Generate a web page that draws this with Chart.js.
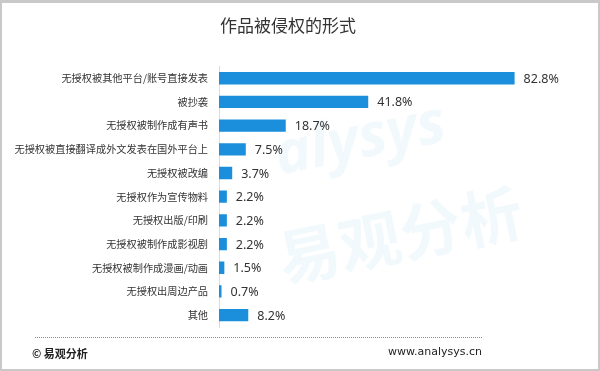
<!DOCTYPE html>
<html>
<head>
<meta charset="utf-8">
<script src="https://cdn.jsdelivr.net/npm/chart.js@4/dist/chart.umd.min.js"></script>
<style>
  html, body { margin: 0; padding: 0; background: #fff; }
  #wrap {
    position: relative; width: 600px; height: 371px; box-sizing: border-box;
    border: 2px solid #c9c9c9; border-top-width: 3px; background: #fff;
    font-family: "Noto Sans CJK SC", "Noto Sans", sans-serif;
  }
  #chart { position: absolute; left: -2px; top: -3px; }
  .foot { position: absolute; top: 342px; font-size: 11px; color: #222; font-weight: bold; }
  #dots {
    position: absolute; left: 33px; top: 334px; width: 448px; height: 1px;
    background-image: repeating-linear-gradient(to right, #8a8a8a 0 1px, transparent 1px 2px);
  }
</style>
</head>
<body>
<div id="wrap">
  <canvas id="chart" width="600" height="371"></canvas>
  <div id="dots"></div>
  <div class="foot" style="left:30px;">© 易观分析</div>
  <div class="foot" style="right:116px; font-weight:normal; font-family: 'DejaVu Sans', sans-serif;">www.analysys.cn</div>
</div>
<script>
const title = '作品被侵权的形式';
const categories = [
  '无授权被其他平台/账号直接发表',
  '被抄袭',
  '无授权被制作成有声书',
  '无授权被直接翻译成外文发表在国外平台上',
  '无授权被改编',
  '无授权作为宣传物料',
  '无授权出版/印刷',
  '无授权被制作成影视剧',
  '无授权被制作成漫画/动画',
  '无授权出周边产品',
  '其他'
];
const values = [82.8, 41.8, 18.7, 7.5, 3.7, 2.2, 2.2, 2.2, 1.5, 0.7, 8.2];

const valueLabels = {
  id: 'valueLabels',
  afterDatasetsDraw(chart) {
    const ctx = chart.ctx;
    const meta = chart.getDatasetMeta(0);
    ctx.save();
    ctx.font = '12.5px "Noto Sans", sans-serif';
    ctx.fillStyle = '#333';
    ctx.textAlign = 'left';
    ctx.textBaseline = 'middle';
    meta.data.forEach((bar, i) => {
      ctx.fillText(values[i].toFixed(1) + '%', bar.x + 9, bar.y + 1);
    });
    ctx.restore();
  }
};

const watermark = {
  id: 'watermark',
  beforeDatasetsDraw(chart) {
    const ctx = chart.ctx;
    ctx.save();
    ctx.translate(400, 235);
    ctx.rotate(-0.2);
    ctx.font = 'bold 62px "Noto Sans CJK SC", sans-serif';
    ctx.fillStyle = 'rgba(40,150,220,0.06)';
    ctx.textAlign = 'center';
    ctx.textBaseline = 'middle';
    ctx.fillText('易观分析', 0, 0);
    ctx.font = 'bold italic 60px "Noto Sans", sans-serif';
    ctx.fillText('alysys', -20, -100);
    ctx.restore();
  }
};

new Chart(document.getElementById('chart'), {
  type: 'bar',
  data: {
    labels: categories,
    datasets: [{
      data: values,
      backgroundColor: '#1b8fdb',
      categoryPercentage: 1,
      barPercentage: 0.52
    }]
  },
  plugins: [watermark, valueLabels],
  options: {
    indexAxis: 'y',
    responsive: false,
    animation: false,
    layout: { padding: { top: 0, right: 24, bottom: 44, left: 0 } },
    plugins: {
      legend: { display: false },
      tooltip: { enabled: false },
      title: {
        display: true,
        text: title,
        color: '#333',
        font: { size: 17, family: '"Noto Sans CJK SC", sans-serif', weight: 'normal' },
        padding: { top: 15, bottom: 31 }
      }
    },
    scales: {
      x: {
        min: 0, max: 100,
        display: false
      },
      y: {
        afterFit(scale) { scale.width = 219; },
        grid: { display: false, drawTicks: false },
        border: { display: true, color: '#dcdcdc', width: 1 },
        ticks: {
          color: '#333',
          padding: 11,
          font: { size: 10.2, family: '"Noto Sans CJK SC", sans-serif' }
        }
      }
    }
  }
});
</script>
</body>
</html>
